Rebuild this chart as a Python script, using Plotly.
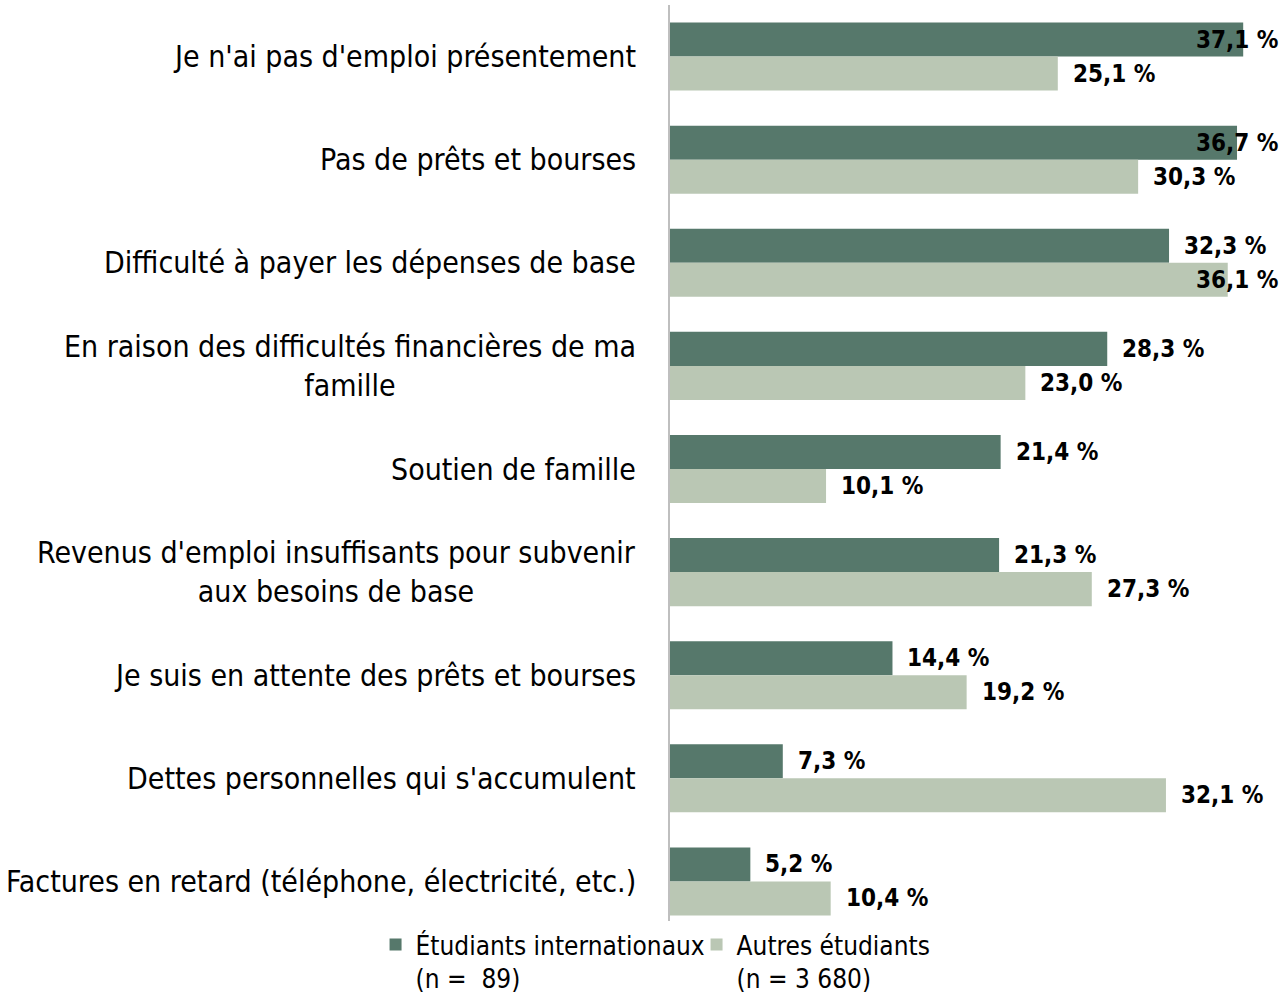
import plotly.graph_objects as go

categories = [
    "Je n'ai pas d'emploi présentement",
    "Pas de prêts et bourses",
    "Difficulté à payer les dépenses de base",
    "En raison des difficultés financières de ma<br>famille",
    "Soutien de famille",
    "Revenus d'emploi insuffisants pour subvenir<br>aux besoins de base",
    "Je suis en attente des prêts et bourses",
    "Dettes personnelles qui s'accumulent",
    "Factures en retard (téléphone, électricité, etc.)",
]
intl = [37.1, 36.7, 32.3, 28.3, 21.4, 21.3, 14.4, 7.3, 5.2]
autres = [25.1, 30.3, 36.1, 23.0, 10.1, 27.3, 19.2, 32.1, 10.4]
series_names = ["Étudiants internationaux<br>(n =  89)", "Autres étudiants<br>(n = 3 680)"]
colors = ["#56786B", "#BAC7B4"]

FONT = "Liberation Sans Narrow, Arial Narrow, DejaVu Sans Condensed, sans-serif"

W, H = 1286, 995
ML, MR, MT, MB = 670, 0, 5, 62
XMAX = 39.87
plot_w = W - ML - MR
plot_h = H - MT - MB
px_per = plot_w / XMAX

fig = go.Figure()
for name, vals, col in zip(series_names, [intl, autres], colors):
    fig.add_trace(go.Bar(
        y=categories, x=vals, orientation="h", name=name,
        marker=dict(color=col, line=dict(width=0)),
        hoverinfo="skip",
    ))

def fmt(v):
    return f"{v:.1f}".replace(".", ",") + " %"

annotations = []
label_w = 82
offset = 15
right_limit = plot_w - 6
for k, vals in enumerate([intl, autres]):
    for i, (c, v) in enumerate(zip(categories, vals)):
        end_px = v * px_per
        ann = dict(
            x=v, y=c, xref="x", yref="y", text=f"<b>{fmt(v)}</b>", showarrow=False,
            font=dict(family=FONT, size=24, color="#000000"),
            yshift=17 if k == 0 else -17,
        )
        if end_px + offset + label_w > right_limit:
            ann.update(x=XMAX, xanchor="right", xshift=-6)
        else:
            ann.update(xanchor="left", xshift=offset - 2)
        annotations.append(ann)

for c in categories:
    annotations.append(dict(
        x=0, y=c, xref="x", yref="y", text=c, showarrow=False,
        xanchor="right", align="center", xshift=-32,
        font=dict(family=FONT, size=30, color="#000000"),
    ))

fig.update_layout(
    width=W, height=H,
    margin=dict(l=ML, r=MR, t=MT, b=MB, autoexpand=False),
    paper_bgcolor="white", plot_bgcolor="white",
    barmode="group", bargap=0.34, bargroupgap=0,
    showlegend=True,
    legend=dict(
        orientation="h", x=-0.478, xanchor="left", y=12 / plot_h, yanchor="top",
        font=dict(family=FONT, size=26, color="#000000"),
        entrywidth=276, traceorder="normal", itemclick=False,
        tracegroupgap=0, valign="top",
    ),
    annotations=annotations,
    xaxis=dict(range=[0, XMAX], visible=False, fixedrange=True),
    yaxis=dict(
        autorange="reversed", showticklabels=False, ticks="",
        showline=True, linecolor="#BFBFBF", linewidth=2,
        showgrid=False, zeroline=False, fixedrange=True,
    ),
)

fig.write_html("out.html", config={"displayModeBar": False},
               post_script="document.body.style.margin='0';")
